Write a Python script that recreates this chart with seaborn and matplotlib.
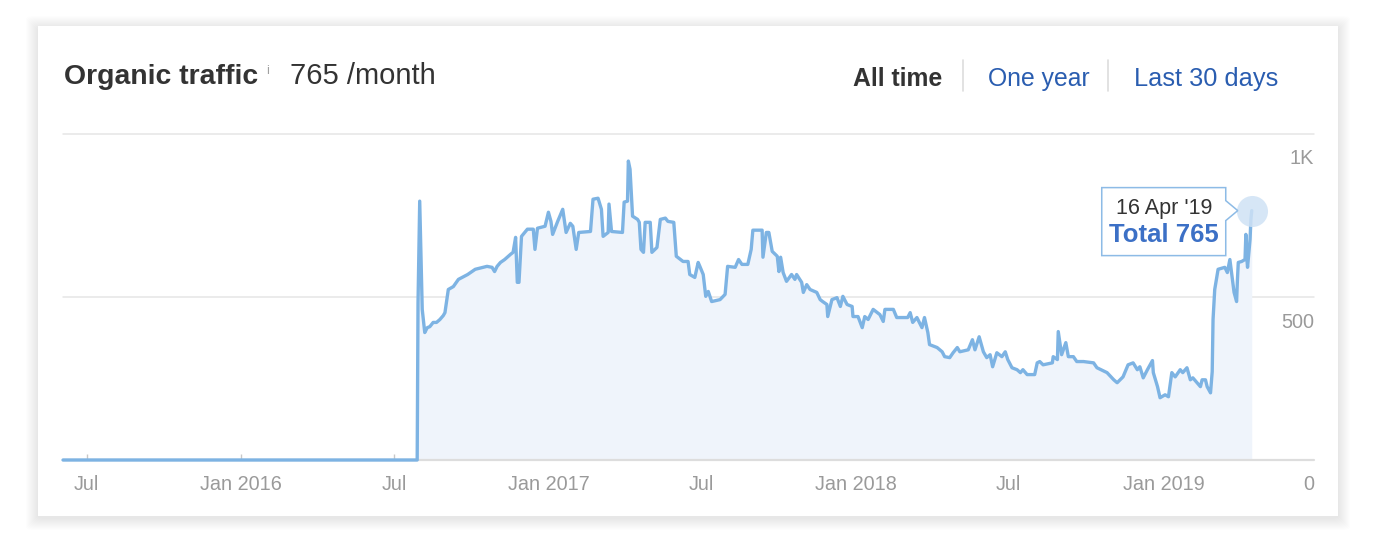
import matplotlib
matplotlib.use("Agg")
import numpy as np
import pandas as pd
import matplotlib.pyplot as plt
import matplotlib.dates as mdates
import seaborn as sns
from matplotlib.patches import Rectangle, Polygon, FancyBboxPatch
from matplotlib.transforms import IdentityTransform, ScaledTranslation

# ---------------- data ----------------
dates = [
    "2015-06-03", "2016-07-28", "2016-07-29", "2016-07-31", "2016-08-03", "2016-08-06", "2016-08-09",
    "2016-08-12", "2016-08-16", "2016-08-20", "2016-08-24", "2016-08-28", "2016-08-30", "2016-09-03",
    "2016-09-09", "2016-09-15", "2016-09-26", "2016-10-05", "2016-10-19", "2016-10-25", "2016-10-28",
    "2016-10-31", "2016-11-04", "2016-11-09", "2016-11-16", "2016-11-19", "2016-11-22", "2016-11-24",
    "2016-11-26", "2016-11-29", "2016-12-06", "2016-12-13", "2016-12-15", "2016-12-18", "2016-12-27",
    "2016-12-31", "2017-01-03", "2017-01-05", "2017-01-11", "2017-01-17", "2017-01-21", "2017-01-26",
    "2017-01-29", "2017-02-02", "2017-02-05", "2017-02-19", "2017-02-22", "2017-02-28", "2017-03-04",
    "2017-03-06", "2017-03-12", "2017-03-13", "2017-03-16", "2017-03-29", "2017-03-31", "2017-04-04",
    "2017-04-05", "2017-04-07", "2017-04-10", "2017-04-16", "2017-04-18", "2017-04-20", "2017-04-23",
    "2017-04-25", "2017-05-01", "2017-05-03", "2017-05-09", "2017-05-13", "2017-05-19", "2017-05-22",
    "2017-05-29", "2017-06-01", "2017-06-09", "2017-06-15", "2017-06-17", "2017-06-23", "2017-06-27",
    "2017-06-29", "2017-07-03", "2017-07-06", "2017-07-09", "2017-07-13", "2017-07-23", "2017-07-29",
    "2017-08-01", "2017-08-10", "2017-08-14", "2017-08-18", "2017-08-25", "2017-08-29", "2017-08-31",
    "2017-09-11", "2017-09-12", "2017-09-16", "2017-09-19", "2017-09-23", "2017-09-29", "2017-10-01",
    "2017-10-03", "2017-10-06", "2017-10-10", "2017-10-16", "2017-10-20", "2017-10-22", "2017-10-28",
    "2017-10-30", "2017-11-03", "2017-11-07", "2017-11-15", "2017-11-19", "2017-11-22", "2017-11-27",
    "2017-11-28", "2017-12-03", "2017-12-09", "2017-12-13", "2017-12-16", "2017-12-21", "2017-12-27",
    "2017-12-28", "2018-01-03", "2018-01-08", "2018-01-11", "2018-01-15", "2018-01-21", "2018-01-29",
    "2018-02-02", "2018-02-04", "2018-02-14", "2018-02-18", "2018-03-03", "2018-03-06", "2018-03-09",
    "2018-03-14", "2018-03-20", "2018-03-23", "2018-03-27", "2018-03-29", "2018-04-07", "2018-04-13",
    "2018-04-16", "2018-04-22", "2018-04-26", "2018-05-01", "2018-05-04", "2018-05-14", "2018-05-19",
    "2018-05-22", "2018-05-27", "2018-06-01", "2018-06-05", "2018-06-09", "2018-06-12", "2018-06-17",
    "2018-06-23", "2018-06-27", "2018-06-30", "2018-07-05", "2018-07-11", "2018-07-15", "2018-07-18",
    "2018-07-23", "2018-08-01", "2018-08-04", "2018-08-07", "2018-08-11", "2018-08-22", "2018-08-23",
    "2018-08-28", "2018-08-29", "2018-09-02", "2018-09-07", "2018-09-10", "2018-09-16", "2018-09-20",
    "2018-09-28", "2018-10-10", "2018-10-14", "2018-10-26", "2018-11-03", "2018-11-07", "2018-11-14",
    "2018-11-20", "2018-11-26", "2018-12-01", "2018-12-04", "2018-12-08", "2018-12-13", "2018-12-19",
    "2018-12-20", "2018-12-25", "2018-12-28", "2019-01-03", "2019-01-07", "2019-01-11", "2019-01-15",
    "2019-01-21", "2019-01-24", "2019-01-29", "2019-02-02", "2019-02-05", "2019-02-10", "2019-02-14",
    "2019-02-16", "2019-02-20", "2019-02-22", "2019-02-26", "2019-02-28", "2019-03-01", "2019-03-03",
    "2019-03-07", "2019-03-15", "2019-03-18", "2019-03-21", "2019-03-24", "2019-03-26", "2019-03-29",
    "2019-03-30", "2019-03-31", "2019-04-04", "2019-04-08", "2019-04-09", "2019-04-10", "2019-04-11",
    "2019-04-14", "2019-04-15", "2019-04-16",
]
traffic = [
    0, 0, 483, 794, 462, 391, 406,
    409, 422, 422, 431, 443, 452, 523,
    532, 554, 569, 585, 594, 591, 578,
    594, 606, 615, 631, 637, 683, 545,
    545, 686, 708, 708, 646, 711, 717,
    760, 732, 692, 732, 769, 698, 726,
    717, 646, 698, 701, 800, 803, 769,
    686, 698, 785, 701, 698, 791, 794,
    917, 892, 748, 738, 729, 646, 637,
    729, 729, 637, 652, 738, 742, 732,
    729, 625, 609, 609, 569, 560, 606,
    594, 569, 502, 517, 486, 492, 508,
    594, 591, 615, 600, 600, 646, 705,
    705, 622, 698, 698, 640, 625, 578,
    622, 575, 548, 569, 554, 569, 545,
    514, 538, 523, 514, 492, 486, 477,
    440, 492, 498, 471, 502, 477, 471,
    440, 440, 406, 440, 431, 462, 446,
    425, 462, 462, 437, 437, 452, 422,
    437, 406, 437, 391, 354, 345, 332,
    317, 314, 329, 345, 332, 338, 369,
    338, 378, 332, 314, 323, 286, 329,
    317, 332, 308, 283, 277, 268, 277,
    262, 262, 298, 302, 292, 298, 317,
    308, 394, 323, 360, 317, 317, 302,
    302, 298, 283, 268, 246, 237, 255,
    292, 298, 277, 286, 252, 277, 305,
    268, 225, 191, 200, 194, 268, 255,
    277, 268, 283, 246, 252, 237, 225,
    246, 246, 225, 206, 271, 431, 523,
    585, 591, 575, 615, 554, 514, 486,
    554, 606, 609, 615, 692, 625, 591,
    677, 738, 765,
]
x_tick_dates = ["2015-07-01", "2016-01-01", "2016-07-01", "2017-01-01",
                "2017-07-01", "2018-01-01", "2018-07-01", "2019-01-01"]
x_tick_labels = ["Jul", "Jan 2016", "Jul", "Jan 2017", "Jul", "Jan 2018", "Jul", "Jan 2019"]
y_tick_values = [0, 500, 1000]
y_tick_labels = ["0", "500", "1K"]
x_range = ["2015-06-03", "2019-06-29"]
title = "Organic traffic"
subtitle = "765 /month"
periods = ["All time", "One year", "Last 30 days"]
tooltip_date = "16 Apr '19"
tooltip_value = "Total 765"

# ---------------- styling ----------------
sns.set_theme(style="white")
plt.rcParams['font.family'] = ['Liberation Sans', 'DejaVu Sans']

W, H = 1378, 544
fig = plt.figure(figsize=(W / 100, H / 100), dpi=100)
fig.patch.set_facecolor('white')


def fx(px):
    return px / W


def fy(py):
    return 1 - py / H


# soft card shadow + card
cl, cr, ct, cb = 38, 1338, 26, 516
for k in range(1, 13):
    fig.add_artist(FancyBboxPatch((fx(cl - k), fy(cb + k + 2)), fx(cr - cl + 2 * k), (cb - ct + 2 * k) / H,
                                  boxstyle="round,pad=0,rounding_size=0.006",
                                  transform=fig.transFigure, facecolor='black', edgecolor='none',
                                  alpha=0.006, zorder=-3))
fig.add_artist(Rectangle((fx(cl), fy(cb)), fx(cr - cl), (cb - ct) / H, transform=fig.transFigure,
                         facecolor='white', edgecolor='none', zorder=-2))

# axes
ax = fig.add_axes([fx(63), fy(460), fx(1314) - fx(63), (460 - 134) / H])
ax.set_facecolor('none')
ax.set_zorder(1)

df = pd.DataFrame({'date': pd.to_datetime(dates), 'traffic': traffic})
ax.fill_between(df['date'], df['traffic'], 0, color='#eff4fb', lw=0, zorder=1)
sns.lineplot(data=df, x='date', y='traffic', ax=ax, color='#7db3e3', lw=2.4,
             estimator=None, sort=False, zorder=3)
ax.lines[-1].set_clip_on(False)
ax.lines[-1].set_solid_joinstyle('round')

ax.set_xlim(pd.Timestamp(x_range[0]), pd.Timestamp(x_range[1]))
ax.set_ylim(0, 1000)

for v in y_tick_values:
    if v == 0:
        ax.axhline(v, color='#dddddd', lw=1.6, zorder=2, clip_on=False)
    else:
        ax.axhline(v, color='#e6e6e6', lw=1.1, zorder=0, clip_on=False)

off = ScaledTranslation(0, -25 / 100, fig.dpi_scale_trans)
for v, lab in zip(y_tick_values, y_tick_labels):
    ax.text(1.0, v, lab, transform=ax.get_yaxis_transform() + off, ha='right', va='center',
            color='#9a9a9a', fontsize=14.3)

ax.set_xticks(pd.to_datetime(x_tick_dates))
ax.set_xticklabels(x_tick_labels)
ax.set_yticks([])
ax.tick_params(axis='x', direction='in', length=4.5, width=1, color='#c8c8c8',
               labelcolor='#9a9a9a', labelsize=14.3, pad=11, bottom=True)
ax.set_xlabel('')
ax.set_ylabel('')
for s in ax.spines.values():
    s.set_visible(False)

# highlight + tooltip
last_date = df['date'].iloc[-1]
last_val = df['traffic'].iloc[-1]
ax.scatter([last_date], [last_val], s=500, color='#cfe2f5', alpha=0.85, lw=0, zorder=4, clip_on=False)
px, py = ax.transData.transform((mdates.date2num(last_date), last_val))
L, R, T, B = px - 150, px - 26, py + 23, py - 45
verts = [(L, B), (R, B), (R, py - 10), (px - 14, py), (R, py + 10), (R, T), (L, T)]
fig.add_artist(Polygon(verts, closed=True, transform=IdentityTransform(), facecolor='white',
                       edgecolor='#8dbbe6', lw=1.1, zorder=5))
fig.text(px - 88, py - 3, tooltip_date, transform=IdentityTransform(), ha='center', va='baseline',
         fontsize=15.5, color='#333333', zorder=6)
fig.text(px - 88, py - 31, tooltip_value, transform=IdentityTransform(), ha='center', va='baseline',
         fontsize=18.5, fontweight='bold', color='#3c70c6', zorder=6)

# header
fig.text(fx(64), fy(84), title, fontsize=20.4, fontweight='bold', color='#333333', va='baseline')
fig.text(fx(266), fy(74), "i", fontsize=9, color='#a0a0a0', va='baseline')
fig.text(fx(290), fy(84), subtitle, fontsize=21, color='#333333', va='baseline')

period_x = [853, 988, 1134]
period_style = [('bold', '#333333', 17.8), ('normal', '#2a5db0', 17.8), ('normal', '#2a5db0', 18.3)]
for (lab, xx, (wgt, col, fs)) in zip(periods, period_x, period_style):
    fig.text(fx(xx), fy(86), lab, fontsize=fs, fontweight=wgt, color=col, va='baseline')
for sx in [963, 1108]:
    fig.add_artist(plt.Line2D([fx(sx), fx(sx)], [fy(60), fy(91)], transform=fig.transFigure,
                              color='#dddddd', lw=1.2))

fig.savefig("out.png", dpi=100, facecolor='white')
